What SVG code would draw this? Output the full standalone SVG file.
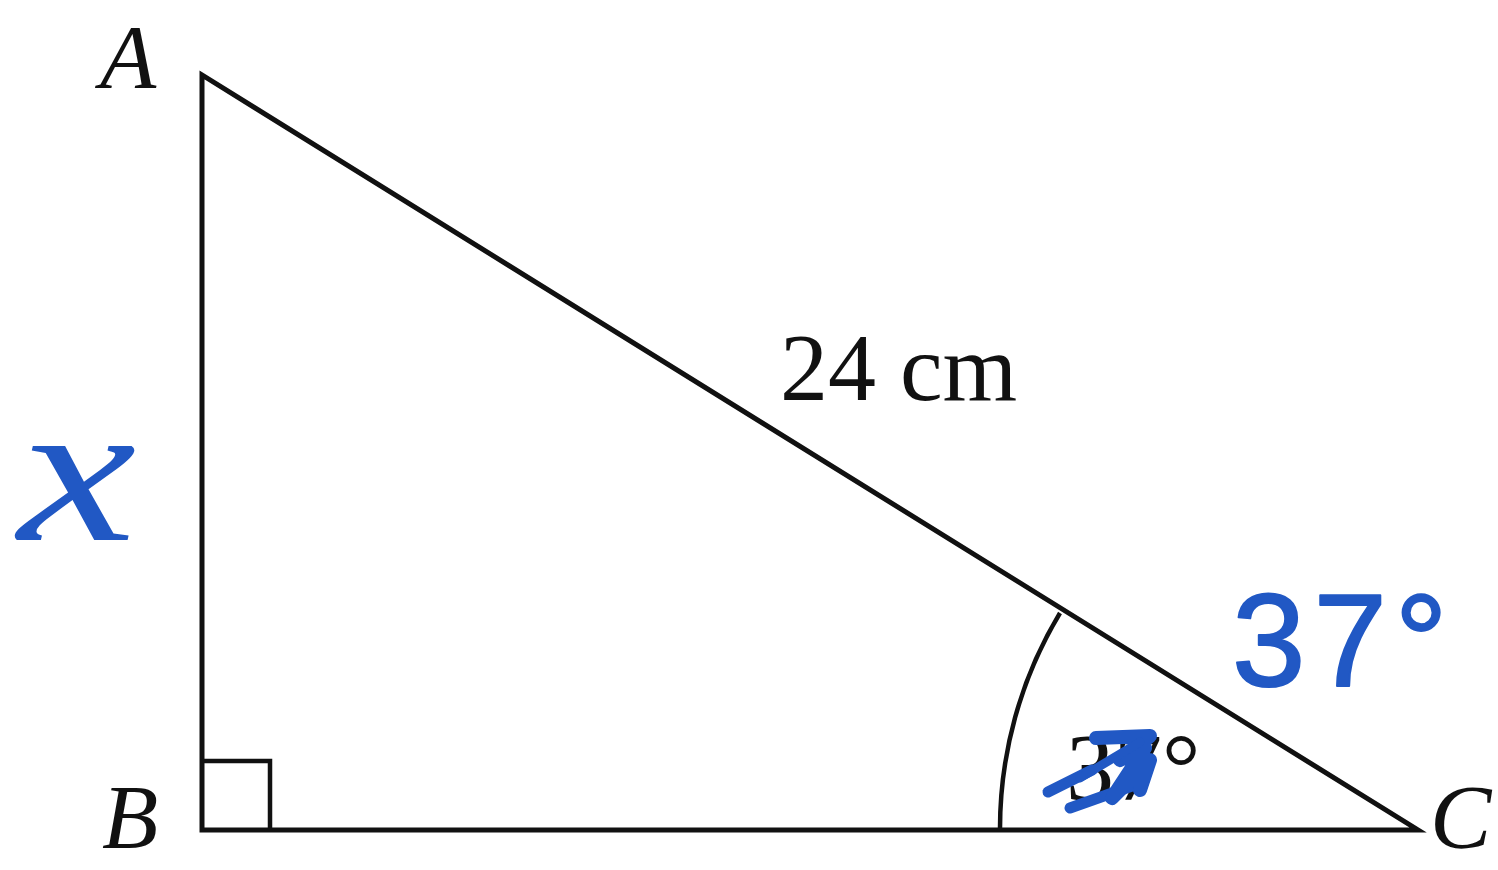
<svg xmlns="http://www.w3.org/2000/svg" width="1498" height="870" viewBox="0 0 1498 870">
<style>
.line{fill:none;stroke:#111;stroke-width:5;stroke-linejoin:miter}
.thin{fill:none;stroke:#111;stroke-width:4.5}
.lbl{font-family:"Liberation Serif","Times New Roman",serif;font-style:italic;font-size:92px;fill:#111}
.txt{font-family:"Liberation Serif","Times New Roman",serif;font-size:96px;fill:#111}
.hand{font-family:"Liberation Sans",Arial,sans-serif;fill:#2158c4;stroke:#2158c4;stroke-width:2;stroke-linejoin:round}
.scrib{fill:none;stroke:#2158c4;stroke-linecap:round;stroke-linejoin:round}
</style>
<rect width="1498" height="870" fill="#fff"/>
<g id="triangle">
<path class="line" d="M202,75 L202,830 L1418,830 Z"/>
<path class="thin" d="M202,761 L270,761 L270,830"/>
<path class="thin" d="M1000,830 A418,418 0 0 1 1060,613"/>
</g>
<g id="labels">
<text class="lbl" x="100" y="88">A</text>
<text class="lbl" x="102" y="848">B</text>
<text class="lbl" x="1430" y="848">C</text>
<text class="txt" x="780" y="400">24 cm</text>
<text class="txt" x="1066" y="800">37°</text>
</g>
<g id="handwriting">
<text class="hand" x="1232" y="686" font-size="132" letter-spacing="8">37°</text>
<text transform="translate(18,540) scale(1.3,1)" font-family="'Liberation Serif',serif" font-style="italic" font-size="205" fill="#2158c4">x</text>
<path class="scrib" stroke-width="11" d="M1048,792 L1092,770"/>
<path class="scrib" stroke-width="11" d="M1070,808 L1132,786"/>
<path class="scrib" stroke-width="14" d="M1096,738 L1150,736 L1120,760 L1145,748 L1112,798 L1150,760 L1140,790"/>
<path class="scrib" stroke-width="9" d="M1080,778 L1140,742"/>
</g>
</svg>
